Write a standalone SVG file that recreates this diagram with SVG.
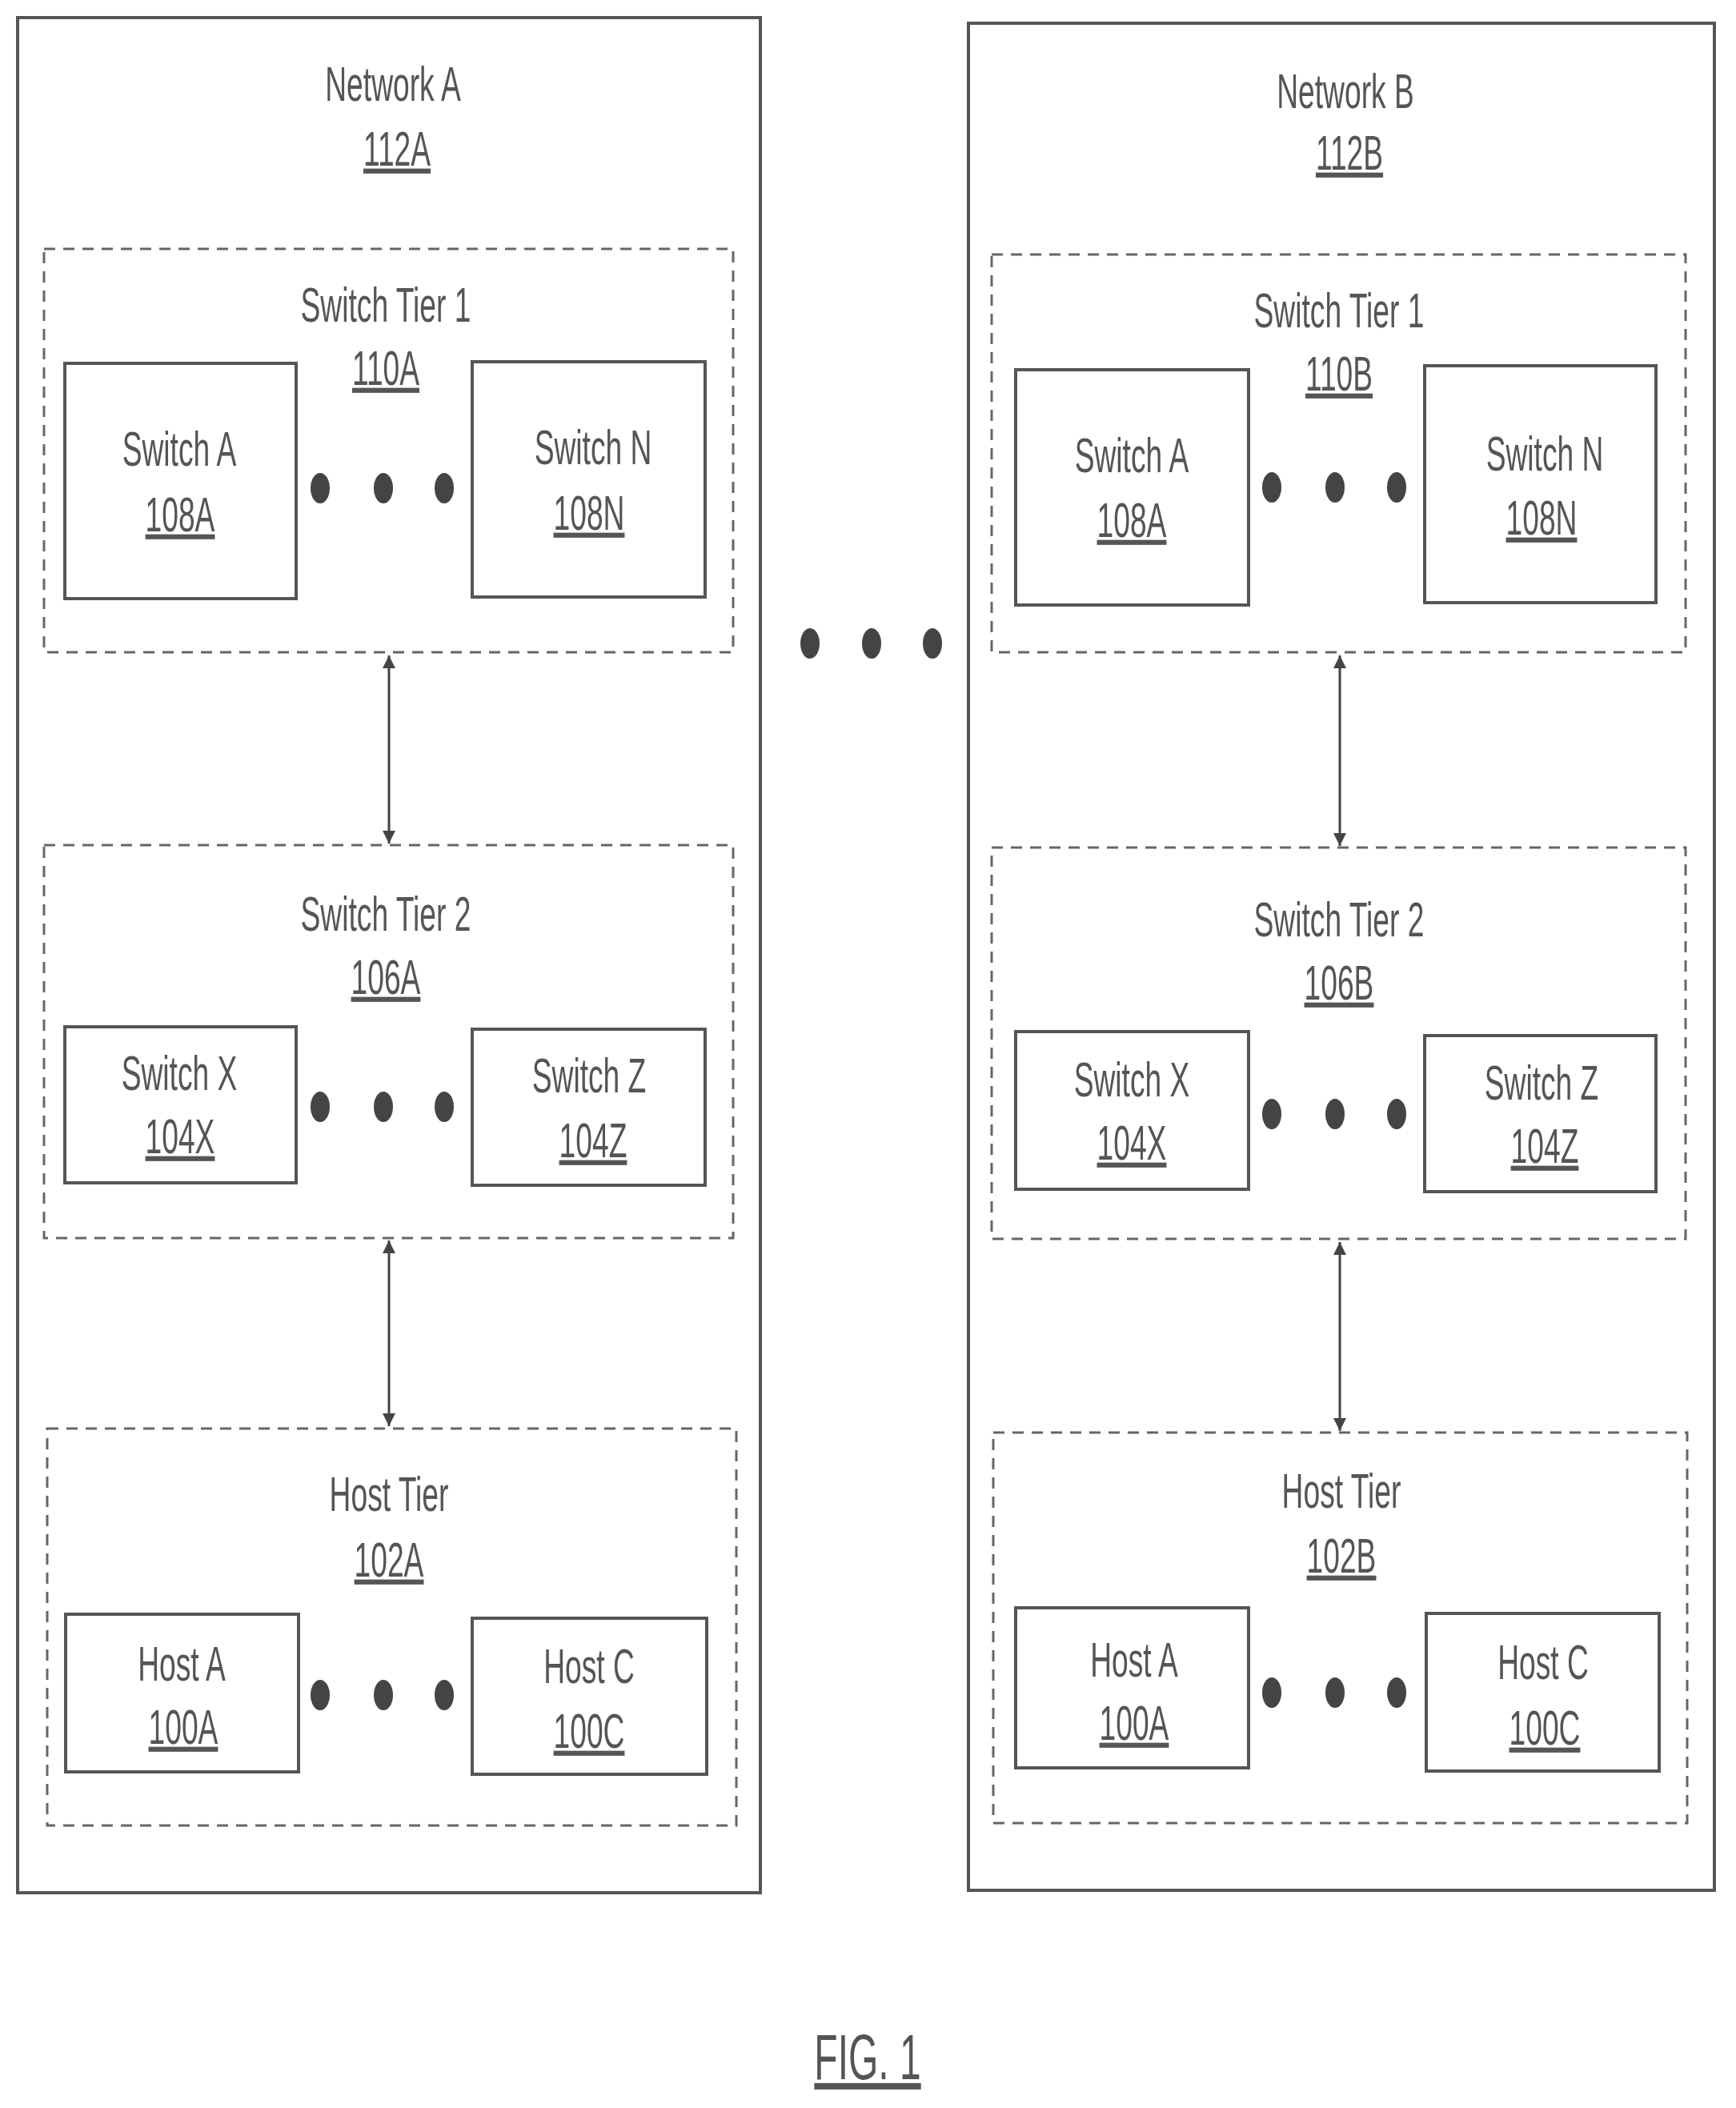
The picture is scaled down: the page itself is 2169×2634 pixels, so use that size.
<svg xmlns="http://www.w3.org/2000/svg" width="2169" height="2634" viewBox="0 0 2169 2634">
<style>
.net{fill:none;stroke:#555;stroke-width:4}
.tier{fill:none;stroke:#666;stroke-width:3;stroke-dasharray:14 10}
.box{fill:none;stroke:#555;stroke-width:4}
text{font-family:"Liberation Sans",Arial,sans-serif;font-size:62px;fill:#555;text-anchor:middle}
.u{text-decoration:underline}
.dot{fill:#444}
.con{stroke:#444;stroke-width:3;fill:none;marker-start:url(#a);marker-end:url(#a)}
</style>
<defs><marker id="a" viewBox="0 0 10 10" refX="10" refY="5" markerWidth="22" markerHeight="16" orient="auto-start-reverse" markerUnits="userSpaceOnUse"><path d="M0,0 L10,5 L0,10 z" fill="#444"/></marker></defs>
<rect width="2169" height="2634" fill="#fff"/>
<g id="networkA"><rect class="net" x="22" y="22" width="928" height="2343"/>
<text transform="matrix(0.6 0 0 1 491 126)">Network A</text><text class="u" transform="matrix(0.6 0 0 1 496 207)">112A</text></g>
<g id="networkB"><rect class="net" x="1210" y="29" width="932" height="2333"/>
<text transform="matrix(0.6 0 0 1 1681 135)">Network B</text><text class="u" transform="matrix(0.6 0 0 1 1686 212)">112B</text></g>
<g id="tier1A"><rect class="tier" x="55" y="311" width="861" height="504"/>
<text transform="matrix(0.6 0 0 1 482 402)">Switch Tier 1</text><text class="u" transform="matrix(0.6 0 0 1 482 481)">110A</text></g>
<g id="switchA_A"><rect class="box" x="81" y="454" width="289" height="294"/>
<text transform="matrix(0.6 0 0 1 224 582)">Switch A</text><text class="u" transform="matrix(0.6 0 0 1 225 664)">108A</text></g>
<g id="switchN_A"><rect class="box" x="590" y="452" width="291" height="294"/>
<text transform="matrix(0.6 0 0 1 741 580)">Switch N</text><text class="u" transform="matrix(0.6 0 0 1 736 662)">108N</text></g>
<g id="tier2A"><rect class="tier" x="55" y="1056" width="861" height="491"/>
<text transform="matrix(0.6 0 0 1 482 1163)">Switch Tier 2</text><text class="u" transform="matrix(0.6 0 0 1 482 1242)">106A</text></g>
<g id="switchX_A"><rect class="box" x="81" y="1283" width="289" height="195"/>
<text transform="matrix(0.6 0 0 1 224 1362)">Switch X</text><text class="u" transform="matrix(0.6 0 0 1 225 1441)">104X</text></g>
<g id="switchZ_A"><rect class="box" x="590" y="1286" width="291" height="195"/>
<text transform="matrix(0.6 0 0 1 736 1365)">Switch Z</text><text class="u" transform="matrix(0.6 0 0 1 741 1446)">104Z</text></g>
<g id="hostTierA"><rect class="tier" x="59" y="1785" width="861" height="496"/>
<text transform="matrix(0.6 0 0 1 486 1888)">Host Tier</text><text class="u" transform="matrix(0.6 0 0 1 486 1970)">102A</text></g>
<g id="hostA_A"><rect class="box" x="82" y="2017" width="291" height="197"/>
<text transform="matrix(0.6 0 0 1 227 2100)">Host A</text><text class="u" transform="matrix(0.6 0 0 1 229 2179)">100A</text></g>
<g id="hostC_A"><rect class="box" x="590" y="2022" width="293" height="195"/>
<text transform="matrix(0.6 0 0 1 736 2103)">Host C</text><text class="u" transform="matrix(0.6 0 0 1 736 2184)">100C</text></g>
<g id="tier1B"><rect class="tier" x="1239" y="318" width="867" height="497"/>
<text transform="matrix(0.6 0 0 1 1673 409)">Switch Tier 1</text><text class="u" transform="matrix(0.6 0 0 1 1673 488)">110B</text></g>
<g id="switchA_B"><rect class="box" x="1269" y="462" width="291" height="294"/>
<text transform="matrix(0.6 0 0 1 1414 590)">Switch A</text><text class="u" transform="matrix(0.6 0 0 1 1414 671)">108A</text></g>
<g id="switchN_B"><rect class="box" x="1780" y="457" width="289" height="296"/>
<text transform="matrix(0.6 0 0 1 1930 588)">Switch N</text><text class="u" transform="matrix(0.6 0 0 1 1926 668)">108N</text></g>
<g id="tier2B"><rect class="tier" x="1239" y="1059" width="867" height="489"/>
<text transform="matrix(0.6 0 0 1 1673 1170)">Switch Tier 2</text><text class="u" transform="matrix(0.6 0 0 1 1673 1249)">106B</text></g>
<g id="switchX_B"><rect class="box" x="1269" y="1289" width="291" height="197"/>
<text transform="matrix(0.6 0 0 1 1414 1370)">Switch X</text><text class="u" transform="matrix(0.6 0 0 1 1414 1449)">104X</text></g>
<g id="switchZ_B"><rect class="box" x="1780" y="1294" width="289" height="195"/>
<text transform="matrix(0.6 0 0 1 1926 1374)">Switch Z</text><text class="u" transform="matrix(0.6 0 0 1 1930 1453)">104Z</text></g>
<g id="hostTierB"><rect class="tier" x="1241" y="1790" width="867" height="488"/>
<text transform="matrix(0.6 0 0 1 1676 1884)">Host Tier</text><text class="u" transform="matrix(0.6 0 0 1 1676 1965)">102B</text></g>
<g id="hostA_B"><rect class="box" x="1269" y="2009" width="291" height="200"/>
<text transform="matrix(0.6 0 0 1 1417 2095)">Host A</text><text class="u" transform="matrix(0.6 0 0 1 1417 2174)">100A</text></g>
<g id="hostC_B"><rect class="box" x="1782" y="2016" width="291" height="197"/>
<text transform="matrix(0.6 0 0 1 1928 2098)">Host C</text><text class="u" transform="matrix(0.6 0 0 1 1930 2180)">100C</text></g>
<g id="dots">
<ellipse class="dot" cx="400" cy="610" rx="12" ry="19"/><ellipse class="dot" cx="479" cy="610" rx="12" ry="19"/><ellipse class="dot" cx="555" cy="610" rx="12" ry="19"/>
<ellipse class="dot" cx="400" cy="1383" rx="12" ry="19"/><ellipse class="dot" cx="479" cy="1383" rx="12" ry="19"/><ellipse class="dot" cx="555" cy="1383" rx="12" ry="19"/>
<ellipse class="dot" cx="400" cy="2118" rx="12" ry="19"/><ellipse class="dot" cx="479" cy="2118" rx="12" ry="19"/><ellipse class="dot" cx="555" cy="2118" rx="12" ry="19"/>
<ellipse class="dot" cx="1012" cy="804" rx="12" ry="19"/><ellipse class="dot" cx="1089" cy="804" rx="12" ry="19"/><ellipse class="dot" cx="1165" cy="804" rx="12" ry="19"/>
<ellipse class="dot" cx="1589" cy="609" rx="12" ry="19"/><ellipse class="dot" cx="1668" cy="609" rx="12" ry="19"/><ellipse class="dot" cx="1745" cy="609" rx="12" ry="19"/>
<ellipse class="dot" cx="1589" cy="1392" rx="12" ry="19"/><ellipse class="dot" cx="1668" cy="1392" rx="12" ry="19"/><ellipse class="dot" cx="1745" cy="1392" rx="12" ry="19"/>
<ellipse class="dot" cx="1589" cy="2115" rx="12" ry="19"/><ellipse class="dot" cx="1668" cy="2115" rx="12" ry="19"/><ellipse class="dot" cx="1745" cy="2115" rx="12" ry="19"/>
</g>
<g id="connectors">
<line class="con" x1="486" y1="819" x2="486" y2="1054"/>
<line class="con" x1="486" y1="1550" x2="486" y2="1782"/>
<line class="con" x1="1674" y1="819" x2="1674" y2="1057"/>
<line class="con" x1="1674" y1="1552" x2="1674" y2="1788"/>
</g>
<g id="caption"><text class="u" style="font-size:80px" transform="matrix(0.6 0 0 1 1084 2598)">FIG. 1</text></g>
</svg>
